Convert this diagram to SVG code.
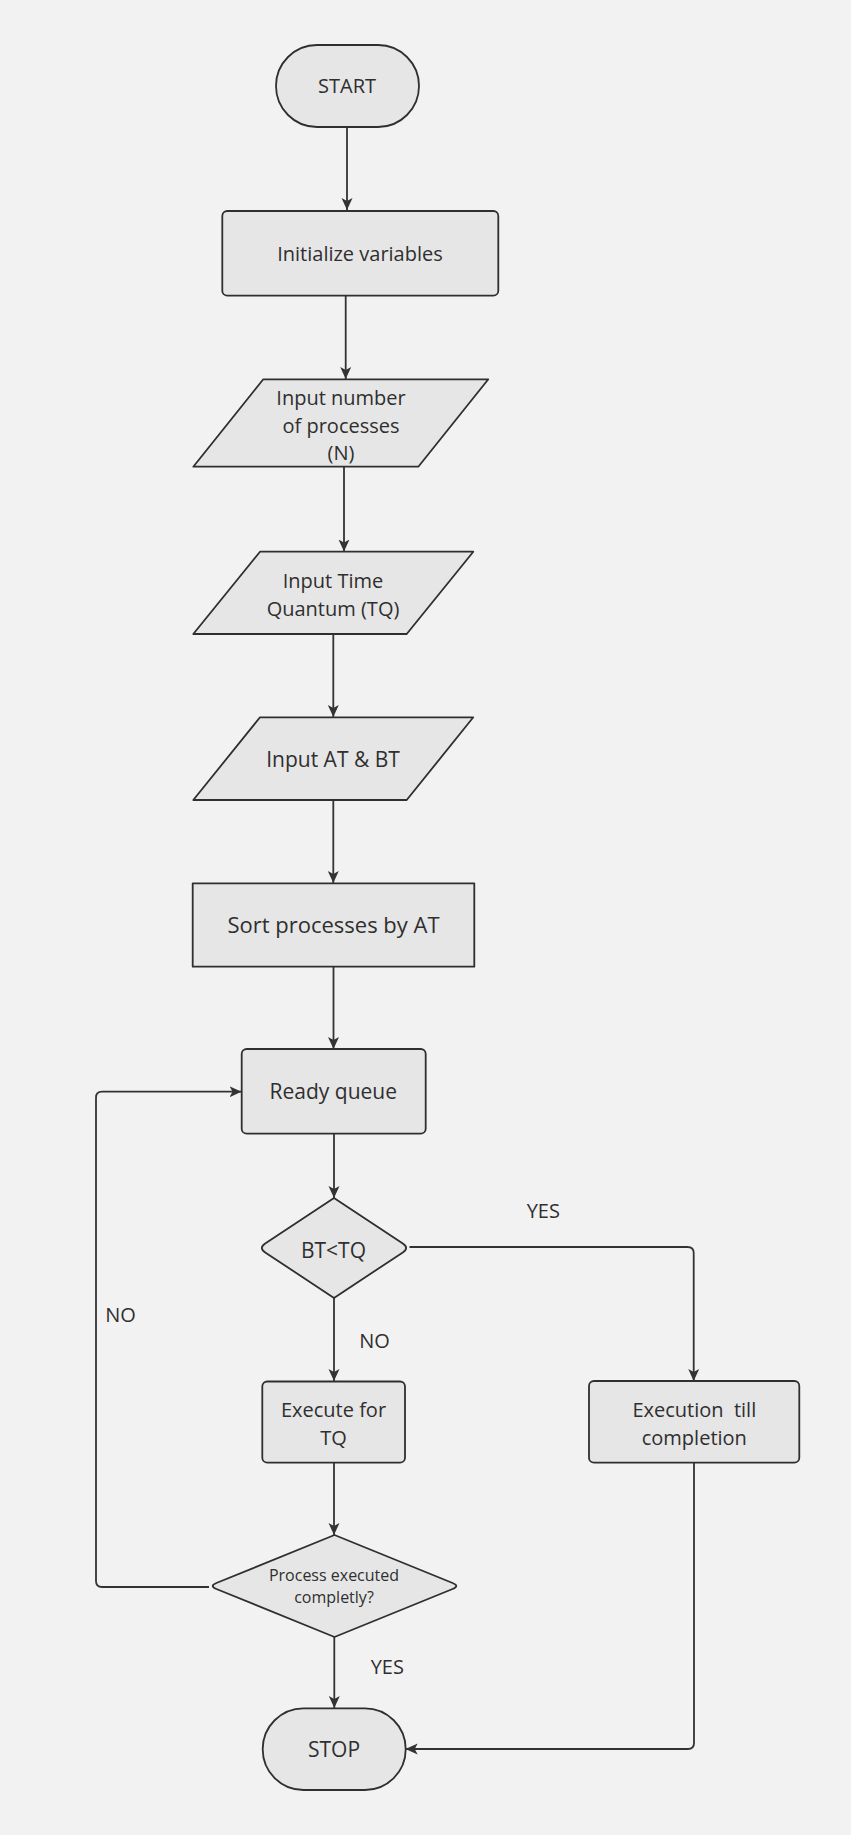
<svg xmlns="http://www.w3.org/2000/svg" width="851" height="1835" viewBox="0 0 851 1835">
<style>
.n{fill:#e6e6e6;stroke:#2f2f2f;stroke-width:1.8;stroke-linejoin:round}
.t{font-family:"Open Sans","Noto Sans",sans-serif;font-size:20px;fill:#2f2f2f;text-anchor:middle}
.s{font-size:16px}
.m{font-size:21px}
.l{font-size:22px}
.c{fill:none;stroke:#333;stroke-width:1.8;marker-end:url(#ah)}
</style>
<defs>
<marker id="ah" viewBox="0 0 12 12" markerWidth="12" markerHeight="12" refX="12" refY="6" orient="auto" markerUnits="userSpaceOnUse">
<path d="M0,0.5 L12,6 L0,11.5 L3,6 Z" fill="#333"/>
</marker>
</defs>
<rect width="851" height="1835" fill="#f2f2f2"/>
<g id="connectors">
<path class="c" d="M347,127 V210"/>
<path class="c" d="M345.7,296 V379"/>
<path class="c" d="M344,467 V551.5"/>
<path class="c" d="M333.3,634 V717"/>
<path class="c" d="M333.3,800 V883"/>
<path class="c" d="M333.5,967 V1049"/>
<path class="c" d="M334,1134 V1198"/>
<path class="c" d="M334,1298 V1381"/>
<path class="c" d="M334,1463 V1535"/>
<path class="c" d="M334.3,1636 V1708"/>
<path class="c" d="M209,1587 H102 Q96,1587 96,1581 V1097.7 Q96,1091.7 102,1091.7 H241.5"/>
<path class="c" d="M409.5,1247 H687.5 Q693.7,1247 693.7,1253 V1381"/>
<path class="c" d="M694,1463 V1743 Q694,1749 688,1749 H405.7"/>
</g>
<g id="labels">
<text class="t" x="120.6" y="1321.5">NO</text>
<text class="t" x="374.6" y="1348">NO</text>
<text class="t" x="543.3" y="1218">YES</text>
<text class="t" x="387.3" y="1674">YES</text>
</g>
<g id="start">
<rect class="n" x="276" y="45" width="143" height="82" rx="41"/>
<text class="t" x="347" y="93">START</text>
</g>
<g id="init">
<rect class="n" x="222.3" y="211" width="276" height="84.7" rx="5"/>
<text class="t" x="360" y="261">Initialize variables</text>
</g>
<g id="input-n">
<polygon class="n" points="263.3,379.3 488.3,379.3 418.3,466.7 193.3,466.7"/>
<text class="t" x="341" y="405">Input number</text>
<text class="t" x="341" y="432.7">of processes</text>
<text class="t" x="341" y="460">(N)</text>
</g>
<g id="input-tq">
<polygon class="n" points="260,551.7 473.3,551.7 406.7,634 193.3,634"/>
<text class="t" x="333" y="587.7">Input Time</text>
<text class="t" x="333" y="616">Quantum (TQ)</text>
</g>
<g id="input-at-bt">
<polygon class="n" points="260,717.3 473.3,717.3 406.7,800 193.3,800"/>
<text class="t m" x="333" y="767">Input AT &amp; BT</text>
</g>
<g id="sort">
<rect class="n" x="192.7" y="883.3" width="281.6" height="83.4"/>
<text class="t l" x="333.5" y="933">Sort processes by AT</text>
</g>
<g id="ready">
<rect class="n" x="241.7" y="1049" width="184" height="84.7" rx="5"/>
<text class="t m" x="333.3" y="1099">Ready queue</text>
</g>
<g id="bt-tq">
<path class="n" d="M334,1198 L402.8,1243.6 Q409.5,1248 402.8,1252.4 L334,1298 L265.2,1252.4 Q258.5,1248 265.2,1243.6 Z"/>
<text class="t m" x="333.5" y="1257.7">BT&lt;TQ</text>
</g>
<g id="exec-tq">
<rect class="n" x="262.3" y="1381.5" width="142.7" height="81.2" rx="5"/>
<text class="t" x="333.5" y="1416.7">Execute for</text>
<text class="t" x="333.5" y="1445">TQ</text>
</g>
<g id="exec-complete">
<rect class="n" x="589" y="1381" width="210.3" height="81.7" rx="5"/>
<text class="t" x="694.3" y="1417.3" xml:space="preserve">Execution  till</text>
<text class="t" x="694.3" y="1445">completion</text>
</g>
<g id="done">
<path class="n" d="M334.5,1535 L452.6,1583 Q460,1586 452.6,1589 L334.5,1637 L216.4,1589 Q209,1586 216.4,1583 Z"/>
<text class="t s" x="334" y="1581">Process executed</text>
<text class="t s" x="334" y="1602.7">completly?</text>
</g>
<g id="stop">
<rect class="n" x="262.7" y="1708.3" width="143" height="81.7" rx="40.8"/>
<text class="t m" x="334" y="1756.7">STOP</text>
</g>
</svg>
